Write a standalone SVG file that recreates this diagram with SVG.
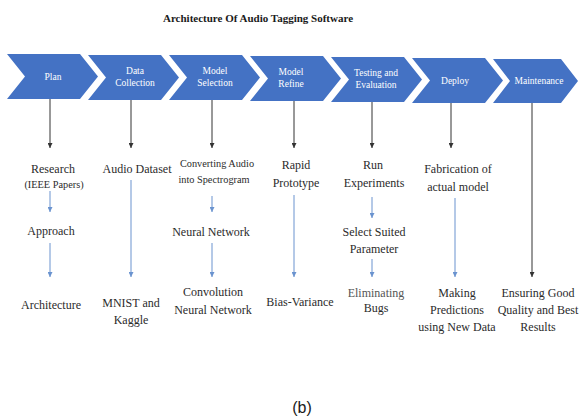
<svg xmlns="http://www.w3.org/2000/svg" width="580" height="420" viewBox="0 0 580 420">
<defs>
<style>
.chev{fill:#4472c4}
.ct{font-size:9.5px;fill:#ffffff;text-anchor:middle}
.t{font-size:12px;fill:#2b2b2b;text-anchor:middle}
.ts{font-size:10.3px;fill:#2b2b2b;text-anchor:middle}
.k{stroke:#333333;stroke-width:1;fill:none}
.b{stroke:#6a93cf;stroke-width:1;fill:none}
</style>
<marker id="ak" viewBox="0 0 6 6" refX="6" refY="3" markerWidth="5" markerHeight="5" markerUnits="userSpaceOnUse" orient="auto"><path d="M0,0 L6,3 L0,6 z" fill="#333333"/></marker>
<marker id="ab" viewBox="0 0 6 6" refX="6" refY="3" markerWidth="5" markerHeight="5" markerUnits="userSpaceOnUse" orient="auto"><path d="M0,0 L6,3 L0,6 z" fill="#6a93cf"/></marker>
</defs>
<rect width="580" height="420" fill="#ffffff"/>
<g font-family="'Liberation Serif', serif">
<text x="258" y="22" font-size="11" font-weight="bold" fill="#1a1a1a" text-anchor="middle">Architecture Of Audio Tagging Software</text>

<g id="plan"><polygon class="chev" points="7,54 80,54 98,76.5 80,99 7,99 25,76.5"/><text class="ct" x="53" y="80">Plan</text></g>
<g id="data-collection"><polygon class="chev" points="88,55 161,55 179,77.5 161,100 88,100 106,77.5"/><text class="ct" x="135" y="74">Data</text><text class="ct" x="135" y="86">Collection</text></g>
<g id="model-selection"><polygon class="chev" points="169,55 242,55 260,77.5 242,100 169,100 187,77.5"/><text class="ct" x="215" y="74">Model</text><text class="ct" x="215" y="86">Selection</text></g>
<g id="model-refine"><polygon class="chev" points="250,56 323,56 341,78.5 323,101 250,101 268,78.5"/><text class="ct" x="291" y="75">Model</text><text class="ct" x="291" y="87">Refine</text></g>
<g id="testing"><polygon class="chev" points="331,57 404,57 422,79.5 404,102 331,102 349,79.5"/><text class="ct" x="376" y="76">Testing and</text><text class="ct" x="376" y="88">Evaluation</text></g>
<g id="deploy"><polygon class="chev" points="412,58 485,58 503,80.5 485,103 412,103 430,80.5"/><text class="ct" x="455" y="84">Deploy</text></g>
<g id="maintenance"><polygon class="chev" points="493,59 561,59 578,81 561,103 493,103 510,81"/><text class="ct" x="539" y="84">Maintenance</text></g>

<g id="connectors">
<line class="k" x1="50" y1="99" x2="50" y2="148" marker-end="url(#ak)"/>
<line class="k" x1="131" y1="100" x2="131" y2="148" marker-end="url(#ak)"/>
<line class="k" x1="212" y1="100" x2="212" y2="148" marker-end="url(#ak)"/>
<line class="k" x1="294" y1="101" x2="294" y2="148" marker-end="url(#ak)"/>
<line class="k" x1="372" y1="102" x2="372" y2="148" marker-end="url(#ak)"/>
<line class="k" x1="451" y1="103" x2="451" y2="148" marker-end="url(#ak)"/>
<line class="k" x1="532" y1="103" x2="532" y2="277" marker-end="url(#ak)"/>
<line class="b" x1="50" y1="191" x2="50" y2="212" marker-end="url(#ab)"/>
<line class="b" x1="50" y1="243" x2="50" y2="277" marker-end="url(#ab)"/>
<line class="b" x1="131" y1="180" x2="131" y2="277" marker-end="url(#ab)"/>
<line class="b" x1="212" y1="196" x2="212" y2="212" marker-end="url(#ab)"/>
<line class="b" x1="212" y1="243" x2="212" y2="277" marker-end="url(#ab)"/>
<line class="b" x1="294" y1="195" x2="294" y2="277" marker-end="url(#ab)"/>
<line class="b" x1="372" y1="197" x2="372" y2="218" marker-end="url(#ab)"/>
<line class="b" x1="372" y1="259" x2="372" y2="277" marker-end="url(#ab)"/>
<line class="b" x1="455" y1="198" x2="455" y2="277" marker-end="url(#ab)"/>
</g>

<g id="research"><text class="t" x="53" y="173">Research</text><text class="ts" x="54" y="188">(IEEE Papers)</text></g>
<g id="approach"><text class="t" x="51" y="235">Approach</text></g>
<g id="architecture"><text class="t" x="51" y="309">Architecture</text></g>
<g id="audio-dataset"><text class="t" x="137" y="173">Audio Dataset</text></g>
<g id="mnist"><text class="t" x="131" y="307">MNIST and</text><text class="t" x="131" y="324">Kaggle</text></g>
<g id="converting"><text class="ts" x="217" y="167">Converting Audio</text><text class="ts" x="214" y="183">into Spectrogram</text></g>
<g id="neural-network"><text class="t" x="211" y="236">Neural Network</text></g>
<g id="cnn"><text class="t" x="213" y="296">Convolution</text><text class="t" x="213" y="314">Neural Network</text></g>
<g id="rapid"><text class="t" x="296" y="169">Rapid</text><text class="t" x="296" y="187">Prototype</text></g>
<g id="bias"><text class="t" x="300" y="306">Bias-Variance</text></g>
<g id="run"><text class="t" x="373" y="169">Run</text><text class="t" x="374" y="187">Experiments</text></g>
<g id="select"><text class="t" x="374" y="236">Select Suited</text><text class="t" x="374" y="253">Parameter</text></g>
<g id="eliminating"><text class="t" x="376" y="297" fill="#555555" style="fill:#555555">Eliminating</text><text class="t" x="376" y="312">Bugs</text></g>
<g id="fabrication"><text class="t" x="458" y="173">Fabrication of</text><text class="t" x="458" y="191">actual model</text></g>
<g id="making"><text class="t" x="457" y="297">Making</text><text class="t" x="457" y="314">Predictions</text><text class="t" x="457" y="331">using New Data</text></g>
<g id="ensuring"><text class="t" x="538" y="297">Ensuring Good</text><text class="t" x="538" y="314">Quality and Best</text><text class="t" x="538" y="331">Results</text></g>
</g>
<text x="302" y="413" font-family="'Liberation Sans', sans-serif" font-size="16" fill="#1a1a1a" text-anchor="middle">(b)</text>
</svg>
